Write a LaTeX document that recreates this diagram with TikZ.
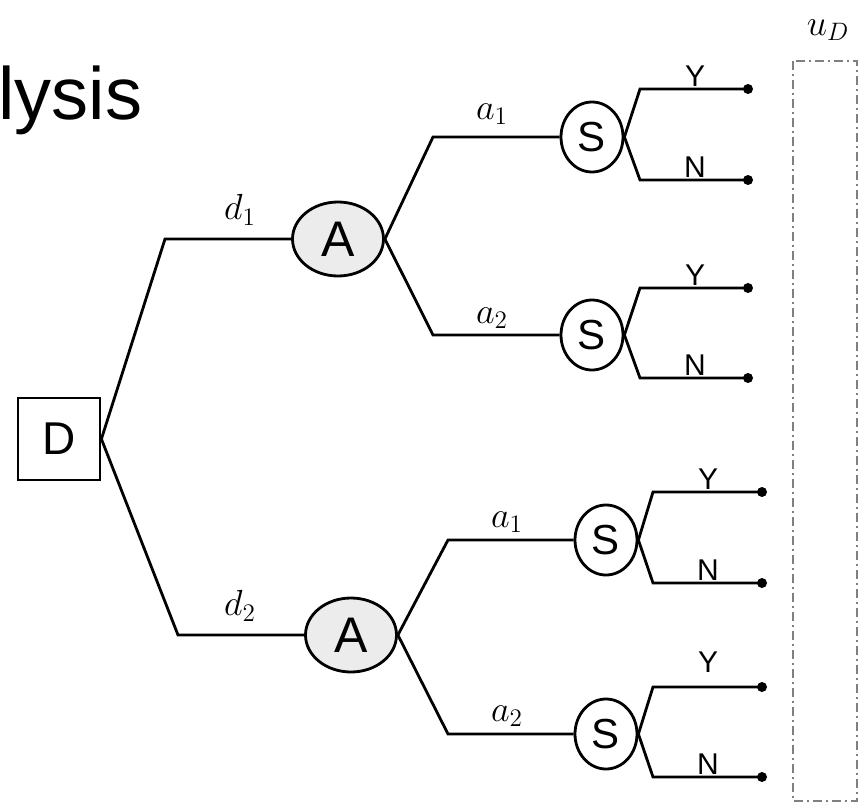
\documentclass[tikz,border=0pt]{standalone}
\usepackage{fontspec}
\newfontfamily\arial{Liberation Sans}
\usetikzlibrary{shapes.geometric}
\begin{document}
\begin{tikzpicture}[x=1pt,y=-1pt,line width=2.8pt,
  decbox/.style={draw,rectangle,minimum width=82pt,minimum height=82pt,inner sep=0pt,font=\arial\fontsize{46}{50}\selectfont},
  chance/.style={draw,ellipse,fill=gray!15,minimum width=91pt,minimum height=74pt,inner sep=0pt,font=\arial\fontsize{50}{54}\selectfont},
  snode/.style={draw,ellipse,minimum width=62pt,minimum height=70pt,inner sep=0pt,font=\arial\fontsize{42}{46}\selectfont},
  enddot/.style={circle,fill=black,minimum size=10pt,inner sep=0pt},
  yn/.style={font=\arial\fontsize{30}{32}\selectfont,inner sep=0pt},
  lab/.style={font=\fontsize{20.74}{24}\selectfont,inner sep=0pt,scale=1.75},
  ubox/.style={draw=gray,line width=2pt,dash pattern=on 9pt off 4pt on 2pt off 4pt}
]
\useasboundingbox (0,0) rectangle (865,803);
\node[anchor=base west,inner sep=0pt,font=\arial\fontsize{74}{80}\selectfont] (title) at (-3,119) {lysis};

\node[decbox] (D) at (59,439) {D};
\node[chance] (A1) at (338,239) {A};
\node[chance] (A2) at (351,635) {A};
\node[snode] (S1) at (592,137) {S};
\node[snode] (S2) at (592,335) {S};
\node[snode] (S3) at (606,540) {S};
\node[snode] (S4) at (606,734) {S};

\coordinate (kd1) at (165,239);
\coordinate (kd2) at (178,635);
\draw (D.east) -- (kd1) -- (A1.west);
\draw (D.east) -- (kd2) -- (A2.west);
\node[lab] (ld1) at (240,210) {$d_1$};
\node[lab] (ld2) at (240,606) {$d_2$};

\coordinate (k11) at (433,137);
\coordinate (k12) at (433,335);
\coordinate (k21) at (448,540);
\coordinate (k22) at (448,734);
\draw (A1.east) -- (k11) -- (S1.west);
\draw (A1.east) -- (k12) -- (S2.west);
\draw (A2.east) -- (k21) -- (S3.west);
\draw (A2.east) -- (k22) -- (S4.west);
\node[lab] (la11) at (492,114) {$a_1$};
\node[lab] (la12) at (492,318) {$a_2$};
\node[lab] (la21) at (507,522) {$a_1$};
\node[lab] (la22) at (507,716) {$a_2$};

% outcome branches
\node[enddot] (e1y) at (748,89) {};
\node[enddot] (e1n) at (748,180) {};
\node[enddot] (e2y) at (748,288) {};
\node[enddot] (e2n) at (748,378) {};
\node[enddot] (e3y) at (762,492) {};
\node[enddot] (e3n) at (762,583) {};
\node[enddot] (e4y) at (762,687) {};
\node[enddot] (e4n) at (762,777) {};
\coordinate (b1y) at (640,89);
\coordinate (b1n) at (640,180);
\coordinate (b2y) at (640,288);
\coordinate (b2n) at (640,378);
\coordinate (b3y) at (653,492);
\coordinate (b3n) at (653,583);
\coordinate (b4y) at (653,687);
\coordinate (b4n) at (653,777);
\draw (S1.east) -- (b1y) -- (e1y.center);
\draw (S1.east) -- (b1n) -- (e1n.center);
\draw (S2.east) -- (b2y) -- (e2y.center);
\draw (S2.east) -- (b2n) -- (e2n.center);
\draw (S3.east) -- (b3y) -- (e3y.center);
\draw (S3.east) -- (b3n) -- (e3n.center);
\draw (S4.east) -- (b4y) -- (e4y.center);
\draw (S4.east) -- (b4n) -- (e4n.center);
\node[yn,anchor=south] (y1) at (695,88) {Y};
\node[yn,anchor=south] (n1) at (695,179) {N};
\node[yn,anchor=south] (y2) at (695,287) {Y};
\node[yn,anchor=south] (n2) at (695,377) {N};
\node[yn,anchor=south] (y3) at (708,491) {Y};
\node[yn,anchor=south] (n3) at (708,582) {N};
\node[yn,anchor=south] (y4) at (708,674) {Y};
\node[yn,anchor=south] (n4) at (708,776) {N};

% utility box
\draw[ubox] (793,61) rectangle (857,801);
\node[lab] (uD) at (828,30) {$u_D$};
\end{tikzpicture}
\end{document}
